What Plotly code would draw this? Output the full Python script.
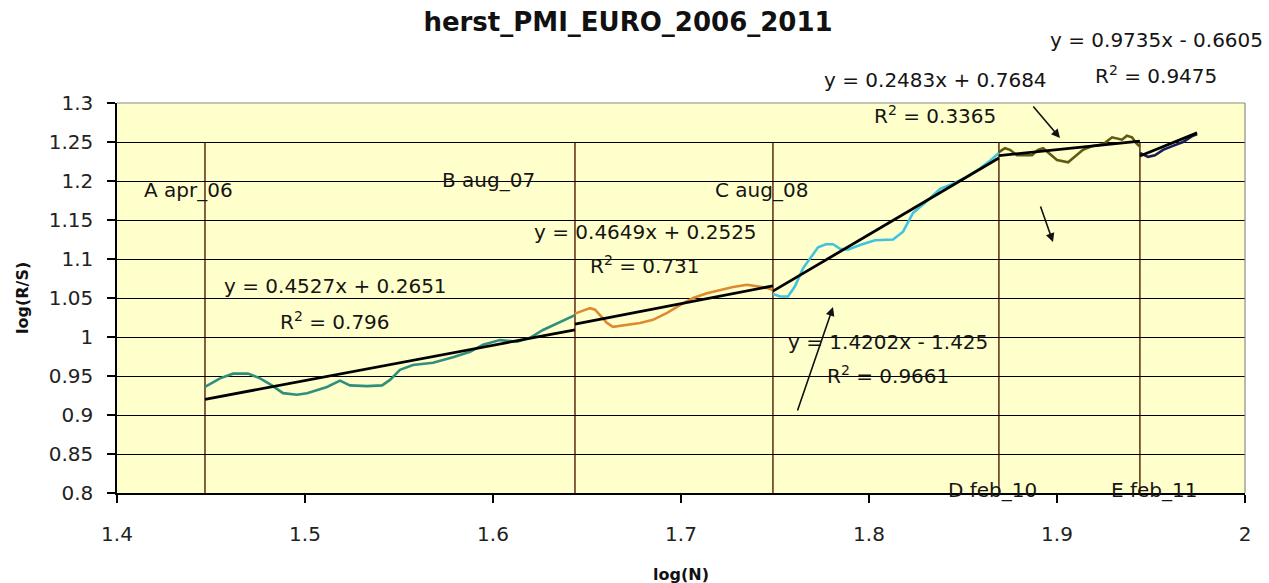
import plotly.graph_objects as go

# ---------------- data ----------------
teal_x = [1.4468, 1.4548, 1.4617, 1.4697, 1.4761, 1.4824, 1.4883, 1.4957, 1.5011, 1.5117,
          1.5186, 1.5239, 1.5330, 1.5410, 1.5452, 1.5505, 1.5574, 1.5681, 1.5787, 1.5878,
          1.5947, 1.6037, 1.6128, 1.6197, 1.6266, 1.6356, 1.6436]
teal_y = [0.936, 0.947, 0.953, 0.953, 0.947, 0.938, 0.928, 0.926, 0.928, 0.936,
          0.944, 0.938, 0.937, 0.938, 0.945, 0.958, 0.964, 0.967, 0.974, 0.981,
          0.990, 0.996, 0.994, 0.999, 1.009, 1.019, 1.028]

orange_x = [1.6436, 1.6516, 1.6543, 1.6606, 1.6638, 1.6691, 1.6782, 1.6851, 1.6926, 1.6995,
            1.7064, 1.7138, 1.7207, 1.7277, 1.7351, 1.7404, 1.7457, 1.7489]
orange_y = [1.030, 1.037, 1.035, 1.018, 1.013, 1.015, 1.018, 1.022, 1.031, 1.041,
            1.050, 1.056, 1.060, 1.064, 1.067, 1.065, 1.063, 1.060]

cyan_x = [1.7489, 1.7527, 1.7569, 1.7606, 1.7649, 1.7686, 1.7729, 1.7771, 1.7809, 1.7846,
          1.7888, 1.7952, 1.8032, 1.8128, 1.8181, 1.8234, 1.8298, 1.8378, 1.8441, 1.8511,
          1.8590, 1.8644, 1.8691]
cyan_y = [1.055, 1.052, 1.052, 1.065, 1.088, 1.100, 1.115, 1.119, 1.119, 1.113,
          1.112, 1.118, 1.124, 1.125, 1.135, 1.159, 1.172, 1.190, 1.196, 1.204,
          1.216, 1.226, 1.236]

olive_x = [1.8691, 1.8723, 1.8750, 1.8787, 1.8867, 1.8899, 1.8926, 1.8952, 1.9000, 1.9059,
           1.9106, 1.9138, 1.9191, 1.9245, 1.9293, 1.9319, 1.9346, 1.9372, 1.9399, 1.9420,
           1.9441]
olive_y = [1.237, 1.242, 1.240, 1.233, 1.233, 1.240, 1.242, 1.237, 1.227, 1.224,
           1.233, 1.240, 1.245, 1.247, 1.256, 1.255, 1.253, 1.258, 1.256, 1.249,
           1.244]

navy_x = [1.9441, 1.9484, 1.9521, 1.9564, 1.9617, 1.9670, 1.9723, 1.9745]
navy_y = [1.236, 1.231, 1.233, 1.240, 1.245, 1.250, 1.258, 1.260]

# phase boundaries (A..E) and end of data
phase_x = [1.4468, 1.6436, 1.7489, 1.8691, 1.9441]
phase_labels = ["A apr_06", "B aug_07", "C aug_08", "D feb_10", "E feb_11"]
data_end = 1.9745
phase_top = 1.25

# linear trend lines per phase
trend_slope = [0.4527, 0.4649, 1.4202, 0.2483, 0.9735]
trend_icept = [0.2651, 0.2525, -1.425, 0.7684, -0.6605]
trend_eq = ["y = 0.4527x + 0.2651", "y = 0.4649x + 0.2525", "y = 1.4202x - 1.425",
            "y = 0.2483x + 0.7684", "y = 0.9735x - 0.6605"]
trend_r2 = ["0.796", "0.731", "0.9661", "0.3365", "0.9475"]

x_ticks = [1.4, 1.5, 1.6, 1.7, 1.8, 1.9, 2.0]
x_ticktext = ["1.4", "1.5", "1.6", "1.7", "1.8", "1.9", "2"]
y_ticks = [0.8, 0.85, 0.9, 0.95, 1.0, 1.05, 1.1, 1.15, 1.2, 1.25, 1.3]
y_ticktext = ["0.8", "0.85", "0.9", "0.95", "1", "1.05", "1.1", "1.15", "1.2", "1.25", "1.3"]

# ---------------- layout helpers (pixel -> paper) ----------------
L, R, T, B, W, H = 117, 24, 103, 90, 1269, 583
PW, PH = W - L - R, H - T - B


def px(xp):
    return (xp - L) / PW


def py(yp):
    return (H - B - yp) / PH


# ---------------- figure ----------------
fig = go.Figure()

series = [
    (teal_x, teal_y, "#2f8f7c"),
    (orange_x, orange_y, "#dd8a30"),
    (cyan_x, cyan_y, "#3fc3e0"),
    (olive_x, olive_y, "#5e5a12"),
    (navy_x, navy_y, "#1a1a5a"),
]
for xs, ys, col in series:
    fig.add_trace(go.Scatter(x=xs, y=ys, mode="lines",
                             line=dict(color=col, width=2.6), hoverinfo="skip"))

bounds = phase_x + [data_end]
for i in range(5):
    x0, x1 = bounds[i], bounds[i + 1]
    fig.add_trace(go.Scatter(
        x=[x0, x1],
        y=[trend_slope[i] * x0 + trend_icept[i], trend_slope[i] * x1 + trend_icept[i]],
        mode="lines", line=dict(color="black", width=2.8), hoverinfo="skip"))

shapes = []
for xv in phase_x:
    shapes.append(dict(type="line", xref="x", yref="y", x0=xv, x1=xv, y0=0.8, y1=phase_top,
                       line=dict(color="#5c2a10", width=1.5), layer="below"))
shapes.append(dict(type="line", xref="paper", yref="paper", x0=0, x1=1, y0=1, y1=1,
                   line=dict(color="#8a8a8a", width=1.2)))
shapes.append(dict(type="line", xref="paper", yref="paper", x0=1, x1=1, y0=0, y1=1,
                   line=dict(color="#8a8a8a", width=1.2)))

FONT = "DejaVu Sans"
tf = dict(family=FONT, size=20, color="#151515")

ann = []
# phase labels (pixel positions of the reference)
lab_pos = [(142, 190, "left"), (440, 180, "left"), (713, 190, "left"),
           (992, 490, "center"), (1154, 490, "center")]
for (xp, yp, anc), t in zip(lab_pos, phase_labels):
    ann.append(dict(x=px(xp), y=py(yp), text=t, xanchor=anc))
# equations
eq_pos = [(335, 286, 321), (645, 232, 265), (888, 342, 375), (935, 80, 115), (1156, 40, 75)]
for i, (xp, ey, ry) in enumerate(eq_pos):
    ann.append(dict(x=px(xp), y=py(ey), text=trend_eq[i], xanchor="center"))
    ann.append(dict(x=px(xp), y=py(ry), text="R<sup>2</sup> = " + trend_r2[i], xanchor="center"))
for a in ann:
    a.update(xref="paper", yref="paper", showarrow=False, font=tf, yanchor="middle")

# arrows: tip (x, y) and tail, in reference pixels
arrows = [((1060, 138), (1032, 105)), ((1053, 242), (1040, 205)), ((833, 307), (797, 412))]
for (tx, ty), (sx, sy) in arrows:
    ann.append(dict(x=px(tx), y=py(ty), xref="paper", yref="paper", text="", showarrow=True,
                    ax=sx - tx, ay=sy - ty, axref="pixel", ayref="pixel", arrowhead=2,
                    arrowsize=1.1, arrowwidth=1.6, arrowcolor="#111111", standoff=0,
                    startstandoff=0))

# axis titles
ann.append(dict(xref="paper", yref="paper", x=0.5, y=py(574), text="<b>log(N)</b>",
                showarrow=False, font=dict(family=FONT, size=16, color="#111"),
                xanchor="center", yanchor="middle"))
ann.append(dict(xref="paper", yref="paper", x=px(22), y=0.5, text="<b>log(R/S)</b>",
                showarrow=False, font=dict(family=FONT, size=16, color="#111"),
                textangle=-90, xanchor="center", yanchor="middle"))

fig.update_layout(
    width=W, height=H,
    margin=dict(l=L, r=R, t=T, b=B),
    paper_bgcolor="white", plot_bgcolor="#ffffcc",
    showlegend=False,
    title=dict(text="<b>herst_PMI_EURO_2006_2011</b>", xref="container", yref="container",
               x=628 / W, y=1 - 22 / H, xanchor="center", yanchor="middle",
               font=dict(family=FONT, size=26, color="#111")),
    shapes=shapes, annotations=ann,
)
fig.update_xaxes(range=[1.4, 2.0], tickvals=x_ticks, ticktext=x_ticktext,
                 showgrid=False, zeroline=False, showline=True, linecolor="black", linewidth=1.5,
                 ticks="outside", ticklen=8, tickcolor="black", tickwidth=1.5,
                 ticklabelstandoff=14,
                 tickfont=dict(family=FONT, size=20, color="#222"))
fig.update_yaxes(range=[0.8, 1.3], tickvals=y_ticks, ticktext=y_ticktext,
                 showgrid=True, gridcolor="black", gridwidth=1.3, zeroline=False,
                 showline=True, linecolor="black", linewidth=1.5,
                 ticks="outside", ticklen=8, tickcolor="black", tickwidth=1.5,
                 ticklabelstandoff=10,
                 tickfont=dict(family=FONT, size=20, color="#222"))

fig.write_html("out.html", config={"displayModeBar": False},
               post_script="document.body.style.margin='0';")
